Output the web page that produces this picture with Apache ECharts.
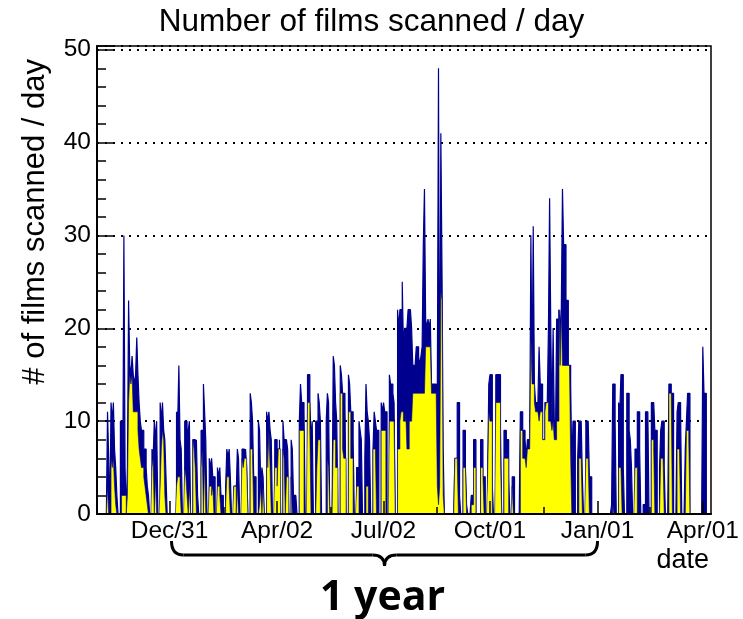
<!DOCTYPE html>
<html><head><meta charset="utf-8">
<script src="https://cdn.jsdelivr.net/npm/echarts@6/dist/echarts.min.js"></script>
<style>html,body{margin:0;padding:0;background:#fff}#c{width:743px;height:619px}</style>
</head><body><div id="c"></div>
<script>
// ---- data ----
const startDate = '2001-10-30';           // first daily bin (a Tuesday)
const tickDates = ['2001-12-31','2002-04-02','2002-07-02','2002-10-01','2003-01-01','2003-04-01'];
const tickLabels = ['Dec/31','Apr/02','Jul/02','Oct/01','Jan/01','Apr/01'];
const yTickLabels = ['0','10','20','30','40','50'];
// films scanned per day, one row per week: Tue Wed Thu Fri Sat Sun Mon
const allFilms = [
0,0,0,0,0,0,0,
0,0,0,11,6,0,12,
10,12,7,5,2,0,0,
10,10,3,30,5,0,5,
23,16,15,17,15,14,15,
19,15,12,10,9,9,7,
7,5,3,2,0,0,7,
6,10,8,10,0,0,12,
10,12,9,8,4,0,0,
0,0,0,0,0,0,11,
10,16,8,7,0,0,10,
10,8,9,10,0,0,8,
8,7,8,2,0,0,9,
9,14,11,8,0,0,6,
5,6,4,4,0,0,5,
4,5,2,2,0,0,3,
7,6,7,4,0,0,3,
3,2,7,6,0,0,7,
7,6,7,5,0,0,13,
12,10,4,4,0,0,10,
9,3,5,4,0,0,11,
10,11,9,8,0,0,8,
8,7,7,8,0,0,10,
8,8,8,7,0,0,8,
7,2,2,2,0,0,10,
14,12,12,11,0,0,15,
15,12,8,10,0,0,10,
10,13,12,10,0,0,0,
0,10,13,12,0,0,0,
17,16,12,10,0,0,16,
15,13,13,12,0,0,15,
14,11,11,8,0,0,5,
5,10,9,8,0,0,6,
14,11,10,8,0,0,7,
11,10,9,9,0,0,12,
11,12,11,11,0,0,15,
14,14,13,12,0,0,22,
20,22,22,25,18,20,20,
20,22,22,22,20,16,16,
16,18,18,17,16,17,18,
29,35,21,20,21,20,21,
14,14,14,14,13,14,48,
4,41,26,7,0,0,0,
0,0,0,0,0,0,6,
6,12,12,2,0,0,9,
9,5,1,0,0,0,2,
2,8,8,0,0,0,0,
8,8,4,4,0,0,4,
14,15,15,3,0,0,15,
15,15,15,9,0,0,9,
9,8,8,4,0,0,4,
4,0,0,0,0,0,11,
11,9,9,8,6,8,8,
8,30,14,31,14,12,12,
12,18,14,14,8,8,12,
12,12,20,34,20,10,20,
10,8,21,21,22,20,22,
35,29,29,23,23,16,16,
14,5,10,10,0,0,6,
10,10,10,4,0,0,10,
10,10,4,4,0,0,0,
0,0,0,0,0,0,0,
0,0,0,0,0,0,0,
1,14,14,10,0,0,12,
11,15,15,5,0,0,13,
13,9,8,5,0,0,7,
7,11,11,7,0,0,1,
1,11,11,11,0,0,12,
12,12,9,9,0,0,5,
9,10,10,5,0,0,0,
14,14,13,13,0,0,0,
11,12,12,11,0,0,0,
7,10,13,13,0,0,0,
0,0,0,0,0,0,0,
0,18,13,13,0,0,0];
// subset of the films (yellow), same weekly layout
const subFilms = [
0,0,0,0,0,0,0,
0,0,0,3,0,0,6,
5,6,3,1,0,0,0,
0,2,2,2,2,0,2,
12,15,14,15,11,11,11,
11,9,7,6,5,5,4,
3,2,1,0,0,0,5,
6,0,4,0,0,0,3,
7,9,8,2,0,0,0,
0,0,0,0,0,0,3,
4,4,3,0,0,0,5,
4,2,0,3,0,0,8,
7,5,0,0,0,0,5,
7,0,6,0,0,0,3,
3,2,3,0,0,0,3,
3,2,0,0,0,0,1,
4,4,3,0,0,0,3,
3,0,3,0,0,0,6,
5,6,6,5,0,0,7,
7,6,0,0,0,0,0,
1,3,0,3,0,0,9,
5,9,5,0,0,0,5,
5,3,7,7,0,0,7,
6,0,4,4,0,0,4,
0,0,0,0,0,0,9,
9,9,9,0,0,0,12,
12,9,0,0,0,0,0,
5,8,8,0,0,0,0,
0,0,6,5,0,0,0,
8,8,5,5,0,0,13,
13,7,6,6,0,0,11,
11,6,6,0,0,0,3,
3,0,0,0,0,0,0,
3,3,0,0,0,0,7,
7,7,0,0,0,0,9,
9,9,9,0,0,0,10,
10,10,10,10,0,0,7,
7,10,11,11,10,10,11,
7,7,10,10,10,13,13,
13,13,13,13,13,13,13,
13,13,18,18,18,18,18,
13,13,13,13,13,3,1,
3,24,23,2,0,0,0,
0,0,0,0,0,0,6,
6,6,0,0,0,0,5,
5,5,0,0,0,0,1,
1,5,5,0,0,0,0,
5,5,4,0,0,0,4,
11,10,10,0,0,0,12,
12,12,12,6,0,0,6,
6,6,6,0,0,0,3,
0,0,0,0,0,0,9,
9,6,6,6,5,7,7,
7,19,14,14,12,11,11,
11,10,11,11,8,8,11,
12,12,10,10,10,9,10,
8,8,10,10,22,16,22,
16,16,16,16,16,16,16,
6,0,0,0,0,0,0,
6,6,6,0,0,0,6,
6,6,0,0,0,0,0,
0,0,0,0,0,0,0,
0,0,0,0,0,0,0,
0,1,0,0,0,0,5,
5,5,0,0,0,0,0,
0,0,0,0,0,0,5,
5,0,0,0,0,0,0,
0,0,0,0,0,0,8,
8,7,0,0,0,0,0,
6,6,6,0,0,0,0,
13,13,13,0,0,0,0,
7,7,7,0,0,0,0,
0,9,9,8,0,0,0,
0,0,0,0,0,0,0,
0,0,0,0,0,0,0];

// ---- build ----
const N = allFilms.length;
const DAY = 86400000;
const t0 = Date.parse(startDate + 'T00:00:00Z');
const tickDays = tickDates.map(d => (Date.parse(d + 'T00:00:00Z') - t0) / DAY);
const minorDays = [];
for (let i = 0; i + 1 < tickDays.length; i++) minorDays.push((tickDays[i] + tickDays[i + 1]) / 2);
function hist(v) {
  const pts = [[0, 0]];
  v.forEach((y, i) => pts.push([i, y]));
  pts.push([v.length, 0]);
  return pts;
}
const FONT = '"Liberation Sans", Arial, Helvetica, sans-serif';
const BLUE = '#00008f';
const chart = echarts.init(document.getElementById('c'), null, {renderer: 'canvas'});
chart.setOption({
  animation: false,
  backgroundColor: '#fff',
  title: {text: 'Number of films scanned / day', left: 'center', top: 1,
    textStyle: {fontFamily: FONT, fontSize: 31.5, fontWeight: 'normal', color: '#000'}},
  grid: {left: 97, right: 32, top: 46, bottom: 105, show: true, borderColor: '#000', borderWidth: 1.5},
  xAxis: [{
    type: 'value', min: 0, max: N, z: 10,
    axisLine: {show: true, lineStyle: {color: '#000', width: 2}},
    splitLine: {show: false},
    axisTick: {show: true, inside: true, length: 13, customValues: tickDays, lineStyle: {color: '#000', width: 1.5}},
    axisLabel: {customValues: tickDays, formatter: v => tickLabels[tickDays.indexOf(v)] || '',
      fontFamily: FONT, fontSize: 24.5, color: '#000', margin: 5}
  }, {
    type: 'value', min: 0, max: N, position: 'top', offset: -468, z: 10,
    axisLine: {show: false}, splitLine: {show: false}, axisLabel: {show: false},
    axisTick: {show: true, inside: false, length: 7, customValues: minorDays, lineStyle: {color: '#000', width: 1.5}}
  }],
  yAxis: {
    type: 'value', min: 0, max: 50.4, interval: 10,
    axisLine: {show: true, lineStyle: {color: '#000', width: 2}},
    axisTick: {show: true, inside: true, length: 18, lineStyle: {color: '#000', width: 1.5}},
    minorTick: {show: true, splitNumber: 5, length: 9, lineStyle: {color: '#000', width: 1.5}},
    splitLine: {show: true, lineStyle: {color: '#000', width: 2, type: [2, 6]}},
    axisLabel: {showMaxLabel: false, formatter: v => yTickLabels[Math.round(v / 10)] || '',
      fontFamily: FONT, fontSize: 24.5, color: '#000', margin: 6}
  },
  series: [{
    type: 'line', xAxisIndex: 0, data: hist(allFilms), step: 'start', symbol: 'none', silent: true, z: 2,
    lineStyle: {color: BLUE, width: 1.2}, areaStyle: {color: BLUE, opacity: 1, origin: 'start'}
  }, {
    type: 'line', xAxisIndex: 0, data: hist(subFilms), step: 'start', symbol: 'none', silent: true, z: 3,
    lineStyle: {color: BLUE, width: 0.6}, areaStyle: {color: '#ffff00', opacity: 1, origin: 'start'}
  }]
});

// annotations: bracket spanning one year, axis titles
const xa = chart.convertToPixel({xAxisIndex: 0}, tickDays[0]) + 2;
const xb = chart.convertToPixel({xAxisIndex: 0}, tickDays[4]);
const xm = (xa + xb) / 2, y0 = 541, y1 = 555, y2 = 566, r = 12;
const st = {stroke: '#000', lineWidth: 3, fill: null};
chart.setOption({graphic: [
  {type: 'bezierCurve', shape: {x1: xa, y1: y0, cpx1: xa, cpy1: y1, x2: xa + r, y2: y1}, style: st},
  {type: 'line', shape: {x1: xa + r, y1: y1, x2: xm - r, y2: y1}, style: st},
  {type: 'bezierCurve', shape: {x1: xm - r, y1: y1, cpx1: xm, cpy1: y1, x2: xm, y2: y2}, style: st},
  {type: 'bezierCurve', shape: {x1: xm, y1: y2, cpx1: xm, cpy1: y1, x2: xm + r, y2: y1}, style: st},
  {type: 'line', shape: {x1: xm + r, y1: y1, x2: xb - r, y2: y1}, style: st},
  {type: 'bezierCurve', shape: {x1: xb - r, y1: y1, cpx1: xb, cpy1: y1, x2: xb, y2: y0}, style: st},
  {type: 'text', x: xm - 2, y: 598, style: {text: '1 year', font: 'bold 41px "Open Sans", sans-serif', fill: '#000', textAlign: 'center', textVerticalAlign: 'middle'}},
  {type: 'text', x: 709, y: 561, style: {text: 'date', font: '27px ' + FONT, fill: '#000', textAlign: 'right', textVerticalAlign: 'middle'}},
  {type: 'text', x: 35, y: 59, rotation: Math.PI / 2, style: {text: '# of films scanned / day', font: '31px ' + FONT, fill: '#000', textAlign: 'right', textVerticalAlign: 'middle'}}
]});
</script></body></html>
